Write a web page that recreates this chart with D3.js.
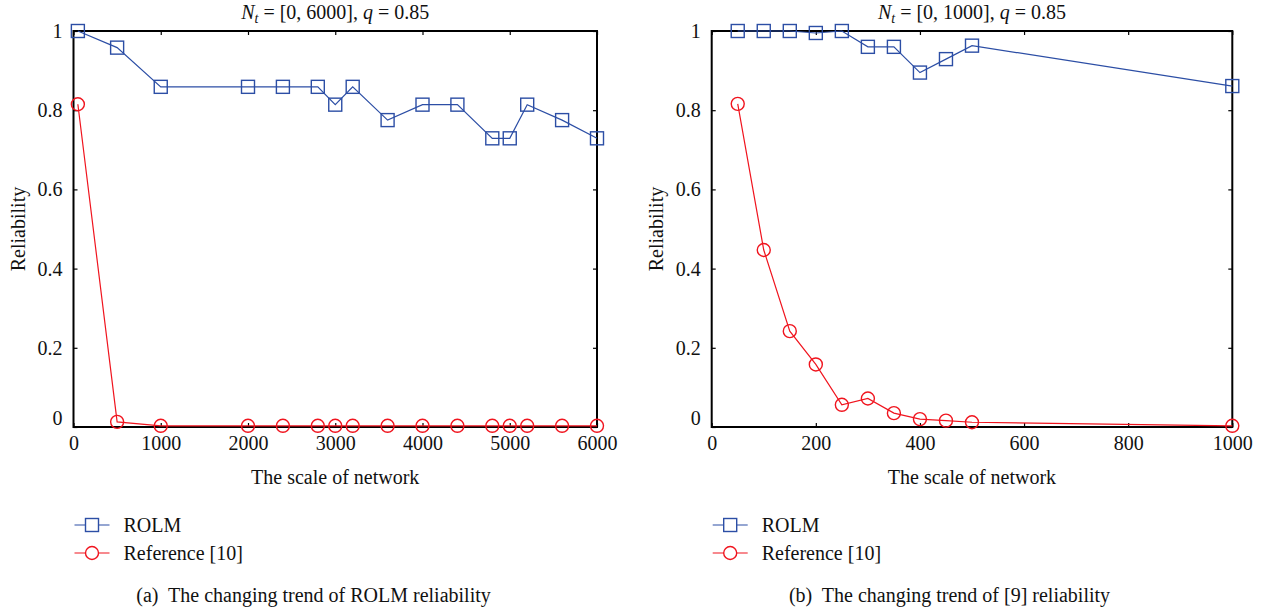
<!DOCTYPE html>
<html>
<head>
<meta charset="utf-8">
<script src="https://cdn.jsdelivr.net/npm/d3@7/dist/d3.min.js"></script>
<style>
  html, body { margin: 0; padding: 0; background: #fff; }
  svg { display: block; }
  svg text { font-family: "Liberation Serif", "Times New Roman", serif !important; fill: #111; }
</style>
</head>
<body>
<svg id="chart" width="1266" height="614"></svg>
<script>
// ---------- data ----------
const seriesNames = ["ROLM", "Reference [10]"];

const leftX = [50, 500, 1000, 2000, 2400, 2800, 3000, 3200, 3600, 4000, 4400, 4800, 5000, 5200, 5600, 6000];
const leftROLM = [1.0, 0.958, 0.859, 0.859, 0.859, 0.859, 0.814, 0.859, 0.775, 0.814, 0.814, 0.729, 0.729, 0.814, 0.775, 0.729];
const leftRef = [0.815, 0.013, 0.003, 0.003, 0.003, 0.003, 0.003, 0.003, 0.003, 0.003, 0.003, 0.003, 0.003, 0.003, 0.003, 0.003];
const leftXTicks = [0, 1000, 2000, 3000, 4000, 5000, 6000];

const rightX = [50, 100, 150, 200, 250, 300, 350, 400, 450, 500, 1000];
const rightROLM = [1.0, 1.0, 1.0, 0.995, 1.0, 0.96, 0.96, 0.895, 0.929, 0.963, 0.861];
const rightRef = [0.816, 0.447, 0.242, 0.158, 0.056, 0.072, 0.035, 0.020, 0.016, 0.012, 0.003];
const rightXTicks = [0, 200, 400, 600, 800, 1000];

const yTicks = [0, 0.2, 0.4, 0.6, 0.8, 1];
const yTickLabels = ["0", "0.2", "0.4", "0.6", "0.8", "1"];

const xLabel = "The scale of network";
const yLabel = "Reliability";
const captions = ["(a)\u00A0 The changing trend of ROLM reliability", "(b)\u00A0 The changing trend of [9] reliability"];
const titleRanges = ["[0, 6000]", "[0, 1000]"];
const qValue = "0.85";

// ---------- styles ----------
const BLUE = "#2c4ea5";
const RED = "#f0141e";
const FS = 20;
const SERIF = "'Liberation Serif', 'Times New Roman', serif";

const svg = d3.select("#chart");

function drawPanel(cfg) {
  const x = d3.scaleLinear().domain(cfg.xDomain).range([cfg.x0, cfg.x1]);
  const y = d3.scaleLinear().domain([0, 1]).range([427, 31]);
  const g = svg.append("g");

  // ticks (inward on all four sides)
  const bottom = d3.axisBottom(x).tickValues(cfg.xTicks).tickSizeInner(-4).tickSizeOuter(0).tickPadding(9)
    .tickFormat(d3.format("d"));
  const gb = g.append("g").attr("transform", `translate(0,${y(0)})`).call(bottom);
  const top = d3.axisTop(x).tickValues(cfg.xTicks).tickSizeInner(-4).tickSizeOuter(0).tickFormat("");
  const gt = g.append("g").attr("transform", `translate(0,${y(1)})`).call(top);
  const left = d3.axisLeft(y).tickValues(yTicks).tickSizeInner(-4).tickSizeOuter(0).tickPadding(11)
    .tickFormat((d, i) => yTickLabels[i]);
  const gl = g.append("g").attr("transform", `translate(${cfg.x0},0)`).call(left);
  const right = d3.axisRight(y).tickValues(yTicks).tickSizeInner(-4).tickSizeOuter(0).tickFormat("");
  const gr = g.append("g").attr("transform", `translate(${cfg.x1},0)`).call(right);
  [gb, gt, gl, gr].forEach(a => {
    a.attr("font-family", null).style("font-family", SERIF).attr("font-size", FS);
    a.select(".domain").remove();
    a.selectAll(".tick line").attr("stroke", "#000").attr("stroke-width", 1.2);
    a.selectAll(".tick text").attr("font-size", FS).style("font-family", SERIF).attr("fill", "#111");
  });
  gl.selectAll(".tick text").filter(d => d === 0).attr("dy", "-0.12em");

  // frame
  g.append("rect")
    .attr("x", cfg.x0).attr("y", y(1))
    .attr("width", cfg.x1 - cfg.x0).attr("height", y(0) - y(1))
    .attr("fill", "none").attr("stroke", "#000").attr("stroke-width", 2);

  // lines
  const line = d3.line().x(d => x(d[0])).y(d => y(d[1]));
  const rolm = cfg.xs.map((v, i) => [v, cfg.rolm[i]]);
  const ref = cfg.xs.map((v, i) => [v, cfg.ref[i]]);

  g.append("path").datum(ref).attr("d", line).attr("fill", "none").attr("stroke", RED).attr("stroke-width", 1.2);
  g.append("path").datum(rolm).attr("d", line).attr("fill", "none").attr("stroke", BLUE).attr("stroke-width", 1.2);

  const S = 13;
  g.selectAll(".sq").data(rolm).enter().append("rect")
    .attr("x", d => x(d[0]) - S / 2).attr("y", d => y(d[1]) - S / 2)
    .attr("width", S).attr("height", S)
    .attr("fill", "none").attr("stroke", BLUE).attr("stroke-width", 1.4);
  g.selectAll(".ci").data(ref).enter().append("circle")
    .attr("cx", d => x(d[0])).attr("cy", d => y(d[1])).attr("r", 6.5)
    .attr("fill", "none").attr("stroke", RED).attr("stroke-width", 1.4);

  const cx = (cfg.x0 + cfg.x1) / 2;

  // title
  const t = g.append("text").attr("x", cx).attr("y", 19).attr("text-anchor", "middle").attr("font-size", FS);
  t.append("tspan").attr("font-style", "italic").text("N");
  t.append("tspan").attr("font-style", "italic").attr("font-size", 14).attr("dy", 4).text("t");
  t.append("tspan").attr("dy", -4).text(" = " + cfg.range + ", ");
  t.append("tspan").attr("font-style", "italic").text("q");
  t.append("tspan").text(" = " + qValue);

  // axis labels
  g.append("text").attr("x", cx).attr("y", 484).attr("text-anchor", "middle").attr("font-size", FS).text(xLabel);
  g.append("text").attr("transform", `translate(${cfg.x0 - 49},229) rotate(-90)`)
    .attr("text-anchor", "middle").attr("font-size", FS).text(yLabel);

  // legend
  const lx0 = cfg.x0 + 1, lx1 = cfg.x0 + 36, lmx = (lx0 + lx1) / 2;
  const rows = [525, 553];
  rows.forEach((ry, i) => {
    g.append("line").attr("x1", lx0).attr("x2", lx1).attr("y1", ry).attr("y2", ry)
      .attr("stroke", i === 0 ? BLUE : RED).attr("stroke-width", 1.2);
    if (i === 0) {
      g.append("rect").attr("x", lmx - S / 2).attr("y", ry - S / 2).attr("width", S).attr("height", S)
        .attr("fill", "#fff").attr("stroke", BLUE).attr("stroke-width", 1.4);
    } else {
      g.append("circle").attr("cx", lmx).attr("cy", ry).attr("r", 6.5)
        .attr("fill", "#fff").attr("stroke", RED).attr("stroke-width", 1.4);
    }
    g.append("text").attr("x", cfg.x0 + 50).attr("y", ry + 7).attr("font-size", FS).text(seriesNames[i]);
  });

  // caption
  g.append("text").attr("x", cfg.capX).attr("y", 602).attr("text-anchor", "middle").attr("font-size", FS)
    .text(cfg.caption);
}

drawPanel({ xDomain: [0, 6000], x0: 73.5, x1: 597, xTicks: leftXTicks, xs: leftX, rolm: leftROLM, ref: leftRef,
  range: titleRanges[0], caption: captions[0], capX: 313.5 });
drawPanel({ xDomain: [0, 1000], x0: 711.7, x1: 1232.3, xTicks: rightXTicks, xs: rightX, rolm: rightROLM, ref: rightRef,
  range: titleRanges[1], caption: captions[1], capX: 949.5 });
</script>
</body>
</html>
